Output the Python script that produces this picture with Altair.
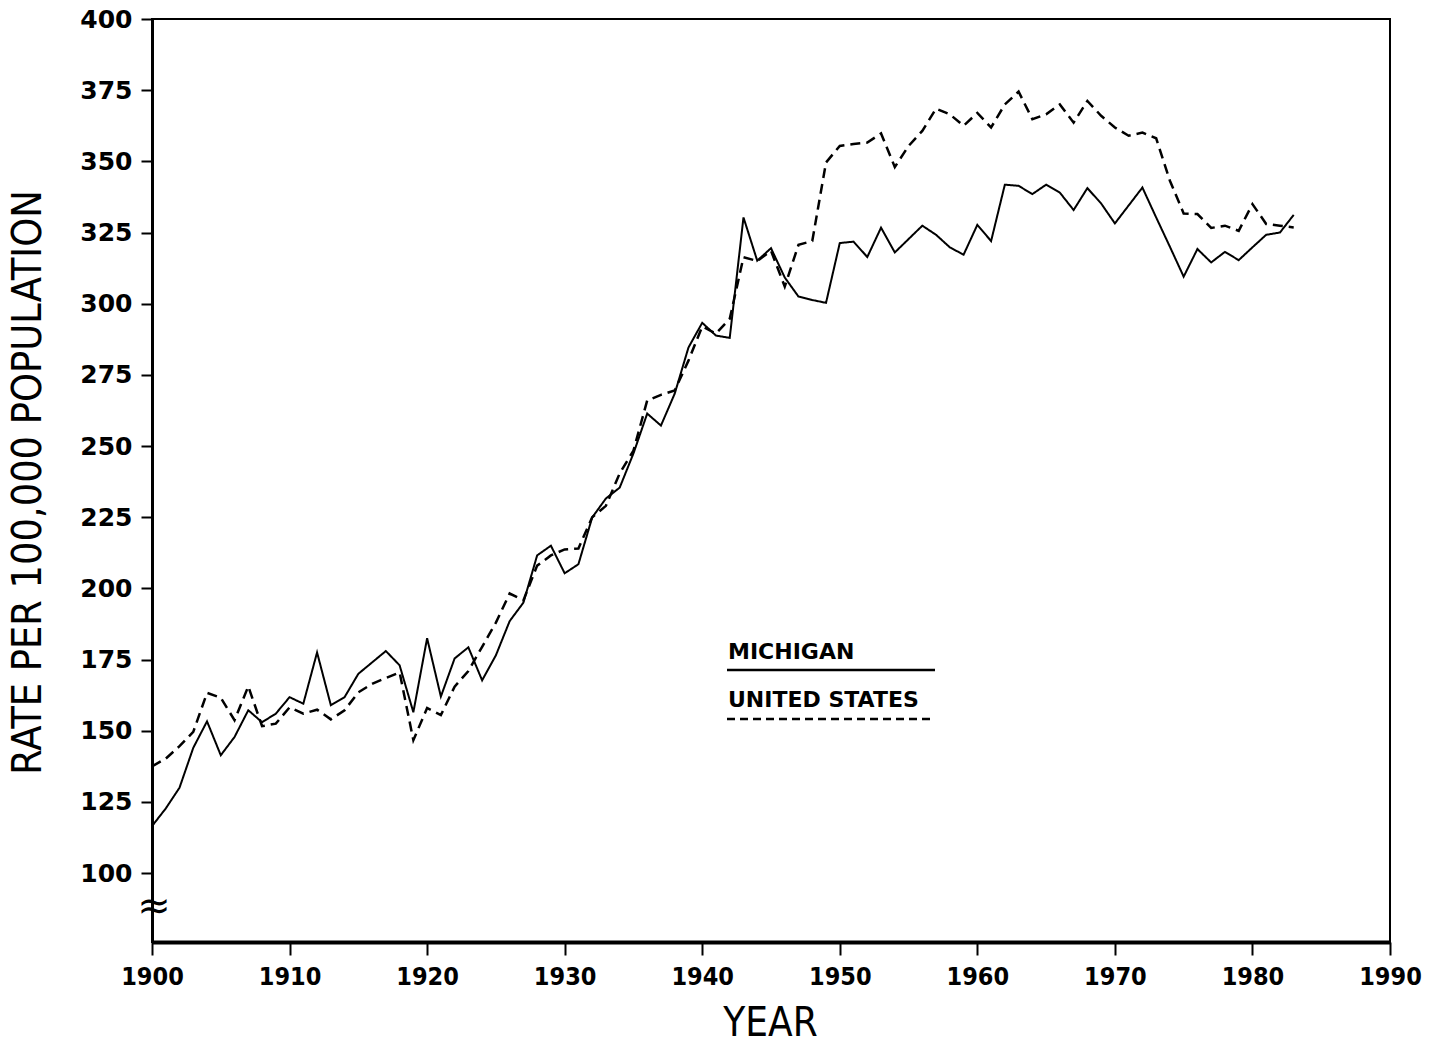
import altair as alt
import pandas as pd

years = list(range(1900, 1984))

michigan = [
    116.5, 122.7, 130.0, 144.0, 153.3, 141.4, 147.8, 157.2, 153.0, 156.0,
    161.8, 159.5, 177.5, 159.0, 161.8, 170.0, 174.0, 178.0, 173.0, 156.5,
    182.5, 162.0, 175.4, 179.3, 167.7, 176.5, 188.5, 195.0, 211.6, 215.0,
    205.3, 208.5, 224.9, 231.6, 235.4, 247.4, 261.4, 257.2, 268.4, 284.6,
    293.3, 288.8, 288.0, 330.3, 315.1, 319.5, 309.2, 302.5, 301.3, 300.3,
    321.3, 321.8, 316.4, 326.7, 318.0, 322.7, 327.4, 324.2, 319.8, 317.2,
    327.7, 322.0, 341.8, 341.4, 338.5, 341.8, 339.0, 332.9, 340.6, 335.2,
    328.2, 334.5, 340.8, 330.3, 320.0, 309.5, 319.2, 314.5, 318.2, 315.3,
    319.8, 324.2, 325.0, 331.2,
]

united_states = [
    137.5, 140.2, 144.6, 149.6, 163.3, 161.6, 153.7, 165.6, 151.6, 152.5,
    158.2, 156.0, 157.4, 154.0, 157.2, 163.5, 166.5, 168.5, 170.5, 146.7,
    158.0, 155.5, 165.5, 171.0, 179.5, 188.0, 198.2, 195.8, 208.0, 211.6,
    213.7, 214.0, 225.0, 229.0, 240.4, 248.4, 266.0, 268.0, 269.5, 280.0,
    292.0, 289.5, 294.7, 316.3, 315.0, 318.6, 306.0, 320.7, 322.0, 349.6,
    355.4, 356.1, 356.6, 359.8, 348.0, 355.4, 360.7, 368.5, 366.5, 362.5,
    367.0, 361.9, 370.0, 374.5, 364.8, 366.5, 370.0, 363.6, 371.2, 366.0,
    361.9, 359.0, 360.1, 358.1, 343.2, 331.7, 331.5, 326.6, 327.4, 325.6,
    335.0, 328.0, 327.4, 326.8,
]

series_names = ["MICHIGAN", "UNITED STATES"]
x_ticks = list(range(1900, 1991, 10))
y_ticks = list(range(100, 401, 25))

df = pd.DataFrame({
    "year": years * 2,
    "rate": michigan + united_states,
    "series": [series_names[0]] * len(years) + [series_names[1]] * len(years),
})

W, H = 1238, 923
COND = "DejaVu Sans Condensed, Liberation Sans, Arial, sans-serif"

x_enc = alt.X(
    "year:Q",
    scale=alt.Scale(domain=[1900, 1990], nice=False, zero=False),
    axis=alt.Axis(
        values=x_ticks, format="d", title="YEAR",
        titleX=618, titleY=93, titleBaseline="alphabetic", titleAlign="center",
        titleFont=COND, titleFontSize=40, titleFontWeight="normal",
        labelFont=COND, labelFontSize=25, labelFontWeight="bold",
        labelPadding=9, tickSize=13, tickWidth=2, domainWidth=4,
        domainColor="black", tickColor="black", labelColor="black", titleColor="black",
        grid=False, labelFlush=False,
    ),
)
y_enc = alt.Y(
    "rate:Q",
    scale=alt.Scale(domain=[75.8, 400], nice=False, zero=False),
    axis=alt.Axis(
        values=y_ticks, title="RATE PER 100,000 POPULATION",
        titleX=-124, titleY=463, titleAngle=-90, titleBaseline="middle", titleAlign="center",
        titleFont=COND, titleFontSize=41, titleFontWeight="normal",
        labelFont="DejaVu Sans", labelFontSize=25, labelFontWeight="bold",
        labelPadding=9, tickSize=11, tickWidth=2, domainWidth=3,
        domainColor="black", tickColor="black", labelColor="black", titleColor="black",
        grid=False,
    ),
)

lines = alt.Chart(df).mark_line(color="black").encode(
    x=x_enc,
    y=y_enc,
    strokeDash=alt.StrokeDash(
        "series:N",
        scale=alt.Scale(domain=series_names, range=[[1, 0], [10, 6]]),
        legend=None,
    ),
    strokeWidth=alt.StrokeWidth(
        "series:N",
        scale=alt.Scale(domain=series_names, range=[2, 2.5]),
        legend=None,
    ),
)

leg_df = pd.DataFrame({"series": series_names})

leg_text_mi = alt.Chart(leg_df).transform_filter(
    alt.datum.series == series_names[0]
).mark_text(
    align="left", baseline="alphabetic", font="DejaVu Sans", fontWeight="bold",
    fontSize=22, color="black"
).encode(text="series:N", x=alt.value(576), y=alt.value(640))

leg_text_us = alt.Chart(leg_df).transform_filter(
    alt.datum.series == series_names[1]
).mark_text(
    align="left", baseline="alphabetic", font="DejaVu Sans", fontWeight="bold",
    fontSize=22, color="black"
).encode(text="series:N", x=alt.value(576), y=alt.value(688))

leg_rule_mi = alt.Chart(leg_df).transform_filter(
    alt.datum.series == series_names[0]
).mark_rule(color="black", strokeWidth=2.5).encode(
    x=alt.value(575), x2=alt.value(783), y=alt.value(651)
)

leg_rule_us = alt.Chart(leg_df).transform_filter(
    alt.datum.series == series_names[1]
).mark_rule(color="black", strokeWidth=2.5, strokeDash=[8, 5]).encode(
    x=alt.value(575), x2=alt.value(783), y=alt.value(700)
)

brk = alt.Chart(leg_df).transform_filter(
    alt.datum.series == series_names[0]
).mark_text(
    text="≈", font="DejaVu Sans", fontSize=40, color="black",
    align="center", baseline="middle"
).encode(x=alt.value(2), y=alt.value(888))

chart = alt.layer(
    lines, leg_rule_mi, leg_rule_us, leg_text_mi, leg_text_us, brk
).properties(
    width=W, height=H,
    background="white",
    autosize=alt.AutoSizeParams(type="none"),
    padding={"left": 144, "top": 11, "right": 39, "bottom": 98},
).configure_view(
    stroke="black", strokeWidth=2
)

chart.save("out.html", embed_options={"renderer": "svg", "actions": False})
